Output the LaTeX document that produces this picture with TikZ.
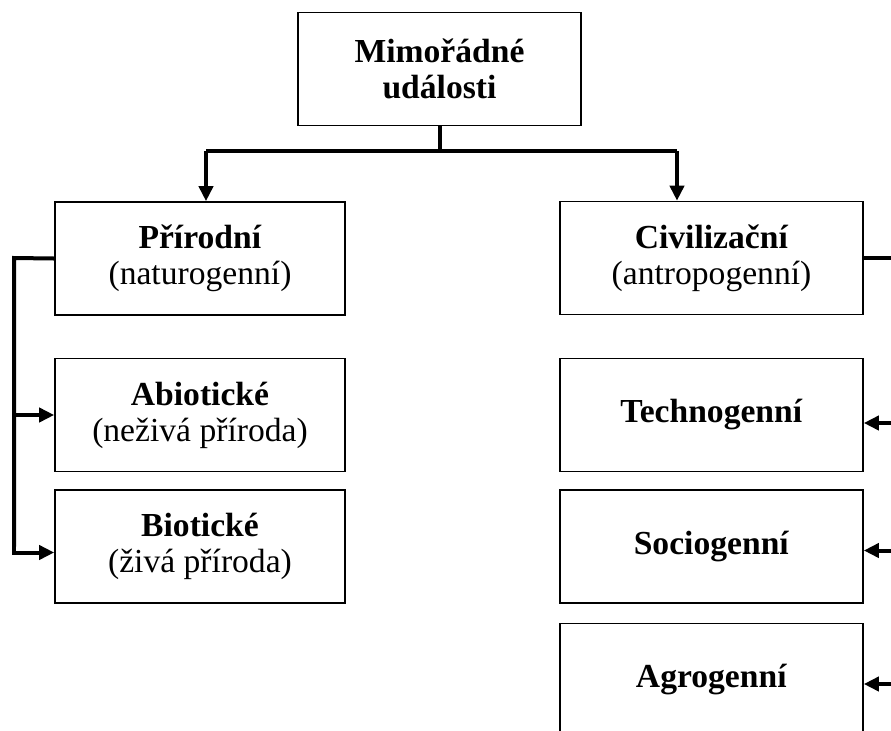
\documentclass[tikz,border=0pt]{standalone}
\usepackage{fontspec}
\setmainfont{Liberation Serif}
\usetikzlibrary{arrows.meta}
\begin{document}
\begin{tikzpicture}[x=.5pt,y=-.5pt,
		box/.style={draw,line width=.8pt,minimum width=#1*.5pt,minimum height=56.5pt,
			inner sep=0pt,align=center,font=\fontsize{16.8}{18}\selectfont},
		box/.default=290,
		link/.style={line width=2pt},
		tip/.style={link,-{Triangle[length=7.5pt,width=7pt]}}]
			\useasboundingbox (0,0) rectangle (891,730);
			\clip (0,0) rectangle (891,730);
			\node[box=283] (M) at (439.5,69) {\textbf{Mimořádné}\\\textbf{události}};
			\node[box] (P) at (200,258.5) {\textbf{Přírodní}\\(naturogenní)};
			\node[box] (A) at (200,415) {\textbf{Abiotické}\\(neživá příroda)};
			\node[box] (B) at (200,546.5) {\textbf{Biotické}\\(živá příroda)};
			\node[box=303] (C) at (711.5,258) {\textbf{Civilizační}\\(antropogenní)};
			\node[box=303] (T) at (711.5,415) {\textbf{Technogenní}};
			\node[box=303] (S) at (711.5,546.5) {\textbf{Sociogenní}};
			\node[box=303] (G) at (711.5,680) {\textbf{Agrogenní}};
			\path (206,151) coordinate (jl) (677,151) coordinate (jr)
			(14,258) coordinate (lb) (905,258) coordinate (rb);
			\draw[link] (M.south) -- (M.south |- jl) (jl) -- (jr);
			\draw[tip] (jl) -- (jl |- P.north);
			\draw[tip] (jr) -- (jr |- C.north);
			\draw[link] (P.west) -- (lb) -- (lb |- B.west);
			\draw[tip] (lb |- A.west) -- (A.west);
			\draw[tip] (lb) |- ([yshift=-3pt]B.west);
			\draw[link] (C.east) -- (rb) -- (rb |- G.east);
			\foreach \n/\d in {T/-4pt,S/-2pt,G/-2pt} \draw[tip] ([yshift=\d]\n.east -| rb) -- ([yshift=\d]\n.east);
		\end{tikzpicture}
\end{document}
